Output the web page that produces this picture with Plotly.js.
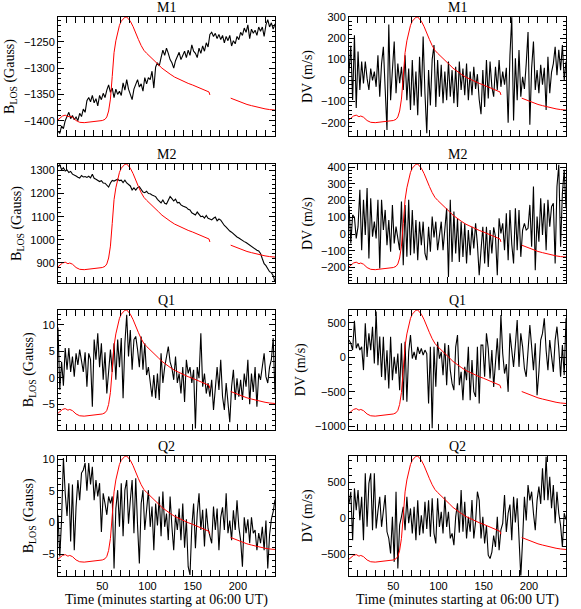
<!DOCTYPE html>
<html>
<head>
<meta charset="utf-8">
<script src="https://cdn.plot.ly/plotly-3.0.1.min.js"></script>
<style>
  html, body { margin: 0; padding: 0; background: #fff; }
  #chart { width: 581px; height: 609px; }
</style>
</head>
<body>
<div id="chart"></div>
<script>
// sampling of the black curves: first point at minute 1, one point every 2 minutes
const T0 = 1, DT = 2;
const timeTicks = [50, 100, 150, 200];

// red overlay (GOES-like light curve), normalised 0..1 to the panel height
const redTime = [0, 3, 6, 9, 12, 14, 17, 21, 25, 30, 35, 40, 45, 50, 53, 55, 57, 59, 61, 63, 65, 67, 69, 71, 73, 75, 77, 79, 81, 84, 87, 90, 93, 96, 99, 102, 105, 108, 112, 116, 120, 125, 130, 135, 140, 145, 150, 155, 160, 165, 168, 169, 180, 192, 196, 200, 205, 210, 215, 220, 225, 230, 235, 241];
const redLevel = [0.13, 0.15, 0.168, 0.175, 0.162, 0.168, 0.158, 0.13, 0.115, 0.112, 0.118, 0.122, 0.126, 0.13, 0.14, 0.16, 0.21, 0.31, 0.5, 0.7, 0.8, 0.88, 0.93, 0.965, 0.985, 0.998, 1.0, 0.985, 0.965, 0.92, 0.86, 0.81, 0.76, 0.72, 0.695, 0.675, 0.655, 0.632, 0.6, 0.57, 0.545, 0.52, 0.495, 0.475, 0.458, 0.442, 0.428, 0.412, 0.395, 0.38, 0.37, 0.345, null, 0.318, 0.305, 0.292, 0.278, 0.265, 0.255, 0.245, 0.236, 0.228, 0.222, 0.218];

// M1 B_LOS (Gauss)
const m1B = [-1420, -1424, -1410, -1415, -1400, -1392, -1384, -1396, -1390, -1398, -1393, -1400, -1386, -1392, -1378, -1384, -1362, -1356, -1364, -1352, -1366, -1358, -1372, -1352, -1360, -1348, -1356, -1342, -1332, -1346, -1338, -1356, -1340, -1350, -1344, -1352, -1328, -1342, -1322, -1340, -1350, -1360, -1340, -1330, -1322, -1336, -1330, -1344, -1318, -1330, -1318, -1322, -1306, -1338, -1298, -1290, -1296, -1280, -1266, -1276, -1262, -1272, -1284, -1290, -1300, -1286, -1278, -1270, -1284, -1276, -1268, -1280, -1266, -1276, -1256, -1268, -1272, -1280, -1262, -1272, -1258, -1268, -1252, -1260, -1236, -1232, -1240, -1234, -1244, -1236, -1246, -1238, -1252, -1240, -1248, -1238, -1258, -1248, -1254, -1240, -1246, -1232, -1238, -1224, -1232, -1218, -1244, -1226, -1234, -1228, -1238, -1222, -1230, -1222, -1240, -1218, -1208, -1222, -1214, -1226, -1216];
// M1 DV (m/s)
const m1DV = [40, 165, -92, 215, -130, 137, -45, 90, -14, 90, 10, -45, 57, 0, 42, -30, 120, -77, 80, 160, -40, -235, 265, -93, 50, 185, -60, 80, -13, 65, -45, 120, -93, 57, -140, 97, -118, 42, -165, 113, -77, 208, -60, -250, 50, -118, 100, 168, -125, 97, -77, 74, -108, 42, -93, 90, -77, 49, -108, 65, -125, 90, -45, 57, -70, 80, -93, 42, -70, 65, -40, 30, -90, -160, 50, -125, 97, -85, 90, -30, -77, 65, -45, 97, -30, 42, -20, 60, -200, 120, 300, -190, 105, -93, 145, -77, 17, -40, 80, 230, -210, 60, 185, -45, 49, -60, 74, -20, 60, -140, 113, -60, 40, 80, 160, 25, 145, 49, 168, 0, 90];
// M2 B_LOS (Gauss)
const m2B = [1317, 1325, 1303, 1312, 1298, 1302, 1291, 1296, 1284, 1281, 1276, 1271, 1267, 1278, 1272, 1274, 1270, 1275, 1268, 1284, 1266, 1262, 1258, 1252, 1256, 1246, 1245, 1238, 1228, 1246, 1257, 1254, 1260, 1262, 1256, 1258, 1248, 1258, 1246, 1240, 1233, 1216, 1225, 1215, 1226, 1230, 1218, 1207, 1204, 1210, 1200, 1199, 1194, 1190, 1187, 1175, 1168, 1160, 1172, 1158, 1155, 1170, 1187, 1178, 1168, 1176, 1160, 1162, 1151, 1146, 1143, 1140, 1132, 1129, 1117, 1112, 1107, 1120, 1110, 1100, 1102, 1094, 1105, 1093, 1090, 1086, 1093, 1098, 1082, 1090, 1085, 1071, 1062, 1055, 1045, 1038, 1033, 1025, 1016, 1012, 1008, 1002, 998, 992, 988, 982, 977, 971, 966, 962, 955, 952, 941, 918, 897, 888, 875, 862, 858, 845, 818];
// M2 DV (m/s)
const m2DV = [174, -56, 114, 100, -26, 44, 264, -96, 204, -6, 274, -146, 214, -16, 74, -26, 204, -206, 204, 24, 144, -66, 84, -106, 174, -56, 44, -36, -96, 194, -186, 174, -136, 204, -126, 144, -116, 84, -156, 74, -66, 74, -116, -156, 44, -106, 104, -20, 74, -96, -16, 74, -96, 40, 154, -256, 204, -166, 134, -116, 94, -166, 74, -136, 64, -176, 24, -126, 44, -86, 64, -60, -246, -96, 44, -176, 44, -196, 24, -116, 40, -16, -246, 94, 4, 64, -96, 124, -156, 144, -60, -176, 154, -96, 144, -136, 24, 64, 24, 34, 174, -76, 284, -216, 104, -46, 214, -6, 184, -96, 204, 44, 164, 184, -176, 284, 414, -76, 244, 384, 154];
// Q1 B_LOS (Gauss)
const q1B = [9.5, -2.3, 3.0, -1.5, 5.6, 1.5, 5.6, 1.1, 4.0, 0.2, 4.6, 2.4, 5.3, 3.0, 1.1, 4.8, -1.7, 4.6, 3.4, -5.5, 7.2, 3.4, 8.4, 2.0, 6.5, -0.4, 4.8, -3.0, 1.5, 5.3, 1.1, 6.5, -0.4, 7.2, 2.0, 7.5, -3.9, 6.5, 11.9, 4.0, 9.0, 1.5, 7.2, 7.8, 5.3, 2.0, 7.8, 1.5, 6.5, 0.5, 2.0, -0.4, -3.6, 0.5, -3.9, 0.8, -4.2, 4.6, -1.0, 2.0, 3.7, 5.9, 3.0, 1.8, -0.4, 4.0, -1.0, 0.8, -3.0, 2.0, -4.6, 3.4, 0.8, 2.0, -1.0, 1.5, -9.6, 2.0, -0.1, 8.4, -1.7, 0.8, -3.0, -1.0, -3.6, -0.4, -6.1, -1.7, 2.0, -2.3, 3.4, -3.6, -6.1, -1.0, -4.2, -8.4, -1.7, 1.5, -4.2, -0.1, -3.6, -0.4, -4.2, 0.8, -1.7, 3.4, -5.0, 0.8, -2.7, 2.0, -5.5, 0.8, -0.4, 2.0, 4.6, 0.2, -1.0, 2.0, 3.4, 7.5, -3.0];
// Q1 DV (m/s)
const q1DV = [250, 200, 103, 529, 130, 200, 103, 150, -187, 490, 5, 345, 100, 442, -92, 660, -116, 300, -285, 297, -333, 100, -454, 297, -333, 5, -240, 53, -478, 200, -623, 224, -647, 80, 321, -20, 77, -40, 150, 50, 128, 30, 103, 53, -671, 150, -1030, 150, -429, 224, -20, 77, -260, 200, -405, 175, -187, -380, -478, 150, 320, -405, -212, -623, -140, -333, 150, -623, -40, -500, -575, 150, -671, 175, 176, -284, 345, 128, -308, 103, -430, -44, 273, -187, 611, 53, -237, -100, -502, 345, 53, -140, 176, 539, -140, 345, 150, -163, -284, 103, 466, 150, -187, 200, -550, -212, 248, 345, 563, 100, -187, 248, 5, -213, 248, 442, 128, -284, 176, -260, 563];
// Q2 B_LOS (Gauss)
const q2B = [1.2, -5.4, 0.5, 10.2, 4.6, 1.0, 6.2, -3.0, 6.0, -4.4, 2.5, 6.7, 3.5, 7.8, 8.3, 9.4, 5.0, 9.4, 6.0, 8.8, 3.5, 6.7, 4.1, 6.2, -1.5, 4.6, 3.0, 1.2, 4.1, 3.0, 4.1, -7.3, 2.2, 5.1, -0.7, 6.2, -2.2, 5.1, 6.7, -0.2, 3.5, 6.7, -1.7, 7.0, -0.5, -6.5, 3.0, 5.1, -1.2, 2.0, 5.1, -0.7, 2.5, -4.4, 3.0, -0.5, 4.1, -2.2, 4.9, -0.7, 1.4, -2.8, 4.1, -0.7, -4.4, 1.2, -1.2, 2.2, -2.8, 3.0, -4.0, 0.5, -7.0, -8.3, -0.7, 3.0, -4.1, 1.4, 4.6, -1.2, 2.0, -3.8, 2.2, -1.0, -2.3, -3.3, 2.5, -1.2, 2.2, -4.4, 0.8, 2.4, -1.2, 4.6, -1.7, 0.3, -2.8, 1.9, -1.2, 3.5, -0.7, -2.8, -7.0, 0.8, -1.7, 0.5, -3.3, 0.8, -1.7, -1.2, -4.4, -1.7, -3.3, -0.7, -4.4, 0.3, -7.3, -2.0, 0.5, 1.7, 3.6];
// Q2 DV (m/s)
const q2DV = [200, 370, -305, 416, 114, 393, -26, 300, -305, 626, -119, 486, 626, -165, 626, -142, 100, 300, -119, 137, 323, -188, -281, -490, 20, -607, 370, -700, -93, 20, 160, -165, 300, -70, 137, -210, 160, -305, 250, -235, 40, -210, 230, -150, 250, -258, 277, -210, -351, 277, -120, 90, -210, 300, -120, 90, -280, -210, -374, 20, 210, -200, 393, -188, 230, -281, 21, -188, 253, -281, -49, 370, 250, -281, 20, -351, -100, -514, -560, -470, -240, -400, 20, -444, -160, -70, 323, -190, 70, 190, -305, 300, -60, 277, -258, -816, -300, 300, -30, 463, 250, 370, 70, -165, 250, 440, 200, 695, 250, 858, 250, 579, 140, 463, -70, 370, 70, -100, -398, 70, -20];

const BLOS = 'B<sub>LOS</sub> (Gauss)';
const DVLAB = 'DV (m/s)';
const timeLabel = 'Time (minutes starting at 06:00 UT)';

const panels = [
    { name: 'M1', col: 0, row: 0, y: m1B, range: [-1429, -1203], dtick: 50, minor: 10, label: BLOS },
    { name: 'M1', col: 1, row: 0, y: m1DV, range: [-263, 301], dtick: 100, minor: 20, label: DVLAB },
    { name: 'M2', col: 0, row: 1, y: m2B, range: [813, 1328], dtick: 100, minor: 20, label: BLOS },
    { name: 'M2', col: 1, row: 1, y: m2DV, range: [-292, 418], dtick: 100, minor: 20, label: DVLAB },
    { name: 'Q1', col: 0, row: 2, y: q1B, range: [-9.8, 12.8], dtick: 5, minor: 1, label: BLOS },
    { name: 'Q1', col: 1, row: 2, y: q1DV, range: [-1048, 684], dtick: 500, minor: 100, label: DVLAB },
    { name: 'Q2', col: 0, row: 3, y: q2B, range: [-8.4, 10.5], dtick: 5, minor: 1, label: BLOS },
    { name: 'Q2', col: 1, row: 3, y: q2DV, range: [-797, 867], dtick: 500, minor: 100, label: DVLAB }
];

const colDomain = [[0.0998, 0.4733], [0.6007, 0.9742]];
const rowDomain = [[0.7767, 0.9721], [0.5353, 0.7307], [0.2947, 0.4910], [0.0550, 0.2512]];

const serif = 'Liberation Serif, Times New Roman, serif';
const sans = 'Liberation Sans, Arial, sans-serif';

const traces = [];
const layout = {
    width: 581, height: 609,
    margin: { t: 0, l: 0, r: 0, b: 0 },
    paper_bgcolor: '#fff', plot_bgcolor: '#fff',
    showlegend: false,
    font: { family: sans, size: 11, color: '#000' },
    annotations: []
};

function axisStyle() {
    return {
        showline: true, linecolor: '#000', linewidth: 1, mirror: 'allticks',
        ticks: 'inside', ticklen: 6, tickcolor: '#000', tickwidth: 1,
        showgrid: false, zeroline: false, fixedrange: true,
        tickfont: { family: sans, size: 11, color: '#000' }
    };
}

panels.forEach((p, i) => {
    const n = i + 1;
    const xid = n === 1 ? 'x' : 'x' + n;
    const yid = n === 1 ? 'y' : 'y' + n;
    const rid = 'y' + (n + 8);
    const bottom = p.row === 3;

    const xa = axisStyle();
    Object.assign(xa, {
        domain: colDomain[p.col], anchor: yid, range: [1, 241],
        tickmode: 'array', tickvals: timeTicks, showticklabels: bottom,
        minor: { tick0: 0, dtick: 10, ticks: 'inside', ticklen: 3, tickcolor: '#000' }
    });
    if (bottom) xa.title = { text: timeLabel, font: { family: serif, size: 14 }, standoff: 3 };

    const ya = axisStyle();
    Object.assign(ya, {
        domain: rowDomain[p.row], anchor: xid, range: p.range,
        tick0: 0, dtick: p.dtick,
        minor: { dtick: p.minor, ticks: 'inside', ticklen: 3, tickcolor: '#000' },
        title: { text: p.label, font: { family: serif, size: 14 }, standoff: 5 }
    });

    layout['xaxis' + (n === 1 ? '' : n)] = xa;
    layout['yaxis' + (n === 1 ? '' : n)] = ya;
    layout['yaxis' + (n + 8)] = {
        overlaying: yid, anchor: xid, range: [0, 1], visible: false, fixedrange: true
    };

    traces.push({
        y: p.y, x0: T0, dx: DT, type: 'scatter', mode: 'lines',
        xaxis: xid, yaxis: yid,
        line: { color: '#000', width: 1.1 }, hoverinfo: 'skip'
    });
    traces.push({
        x: redTime, y: redLevel, type: 'scatter', mode: 'lines',
        xaxis: xid, yaxis: rid, connectgaps: false,
        line: { color: '#ff0000', width: 1 }, hoverinfo: 'skip'
    });

    layout.annotations.push({
        text: p.name, xref: 'paper', yref: 'paper',
        x: (colDomain[p.col][0] + colDomain[p.col][1]) / 2, y: rowDomain[p.row][1],
        xanchor: 'center', yanchor: 'bottom', yshift: 0, showarrow: false,
        font: { family: serif, size: 14, color: '#000' }
    });
});

Plotly.newPlot('chart', traces, layout, { displayModeBar: false, staticPlot: true });
</script>
</body>
</html>
